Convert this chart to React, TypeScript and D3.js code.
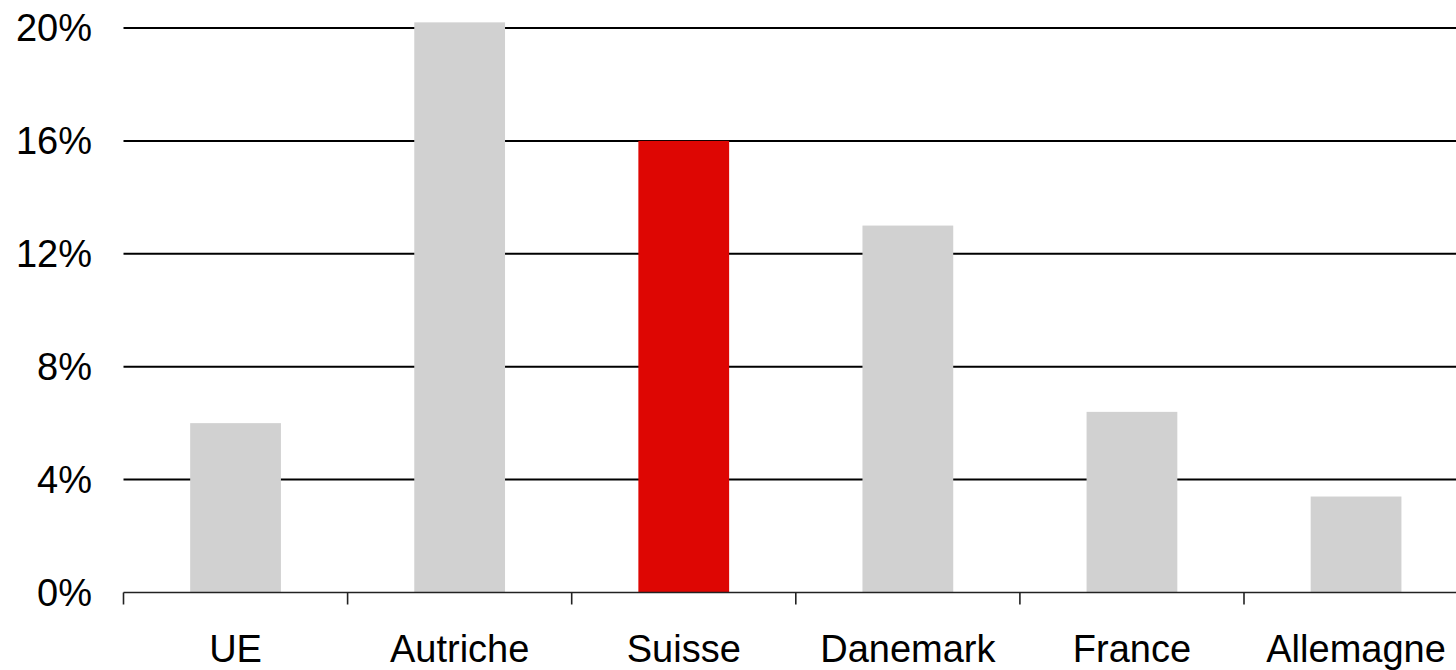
import * as d3 from "d3";
import React from "react";

const categories = ["UE", "Autriche", "Suisse", "Danemark", "France", "Allemagne"];
const values = [6.0, 20.2, 16.0, 13.0, 6.4, 3.4];
const highlight = "Suisse";
const yTicks = [0, 4, 8, 12, 16, 20];

const W = 1456;
const H = 670;
const left = 123.5;
const step = 224.1;
const y0 = 592.5;
const y20 = 28;

export default function App() {
  const x = d3
    .scaleBand<string>()
    .domain(categories)
    .range([left, left + step * categories.length])
    .padding(0);

  const y = d3.scaleLinear().domain([0, 20]).range([y0, y20]);

  const barW = x.bandwidth() * 0.405;
  const font = "'Liberation Sans', Arial, Helvetica, sans-serif";

  return (
    <svg
      width={W}
      height={H}
      style={{ position: "absolute", left: 0, top: 0, background: "#fff" }}
      fontFamily={font}
    >
      {/* gridlines behind the bars */}
      {yTicks
        .filter((t) => t > 0)
        .map((t) => (
          <line
            key={"g" + t}
            x1={left}
            x2={W}
            y1={y(t)}
            y2={y(t)}
            stroke="#000"
            strokeWidth={2}
          />
        ))}

      {categories.map((c, i) => {
        const cx = (x(c) as number) + x.bandwidth() / 2;
        return (
          <rect
            key={c}
            x={cx - barW / 2}
            y={y(values[i])}
            width={barW}
            height={y(0) - y(values[i])}
            fill={c === highlight ? "#de0603" : "#d1d1d1"}
          />
        );
      })}

      {/* x axis */}
      <line x1={left} x2={W} y1={y0} y2={y0} stroke="#222" strokeWidth={1.6} />
      {categories.map((c) => (
        <line
          key={"t" + c}
          x1={x(c) as number}
          x2={x(c) as number}
          y1={y0}
          y2={y0 + 12}
          stroke="#222"
          strokeWidth={1.6}
        />
      ))}
      {categories.map((c) => (
        <text
          key={"l" + c}
          x={(x(c) as number) + x.bandwidth() / 2}
          y={662}
          textAnchor="middle"
          fontSize={38}
          fill="#000"
        >
          {c}
        </text>
      ))}

      {/* y labels */}
      {yTicks.map((t) => (
        <text
          key={"y" + t}
          x={92}
          y={y(t)}
          dy="0.35em"
          textAnchor="end"
          fontSize={38}
          fill="#000"
        >
          {t + "%"}
        </text>
      ))}
    </svg>
  );
}
